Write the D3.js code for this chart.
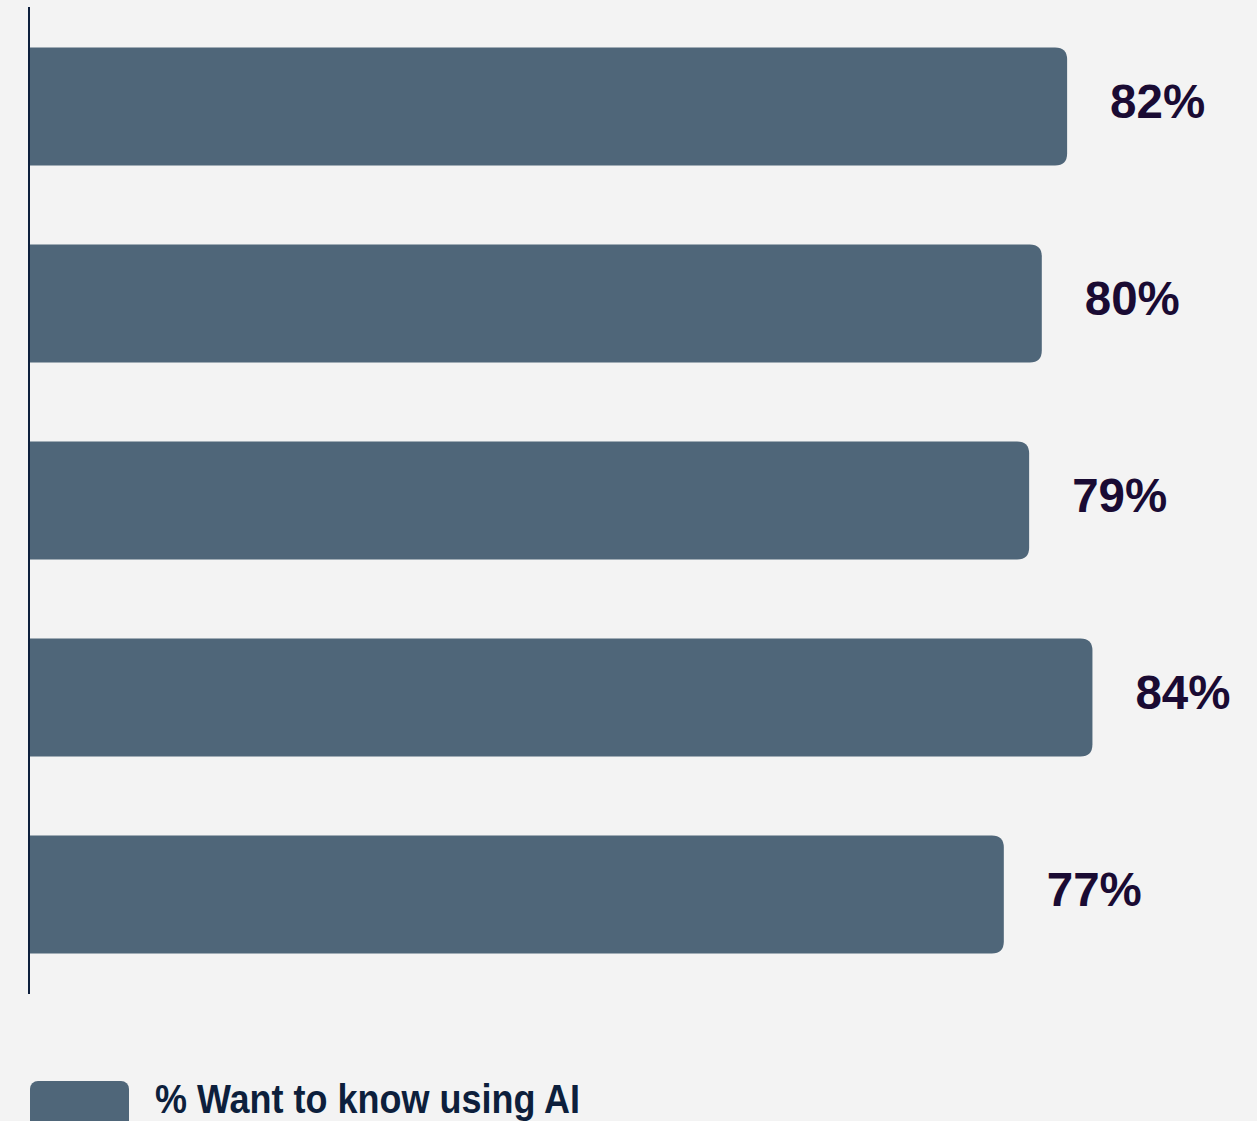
<!DOCTYPE html>
<html>
<head>
<meta charset="utf-8">
<script src="https://cdn.jsdelivr.net/npm/d3@7"></script>
<style>
  html, body { margin: 0; padding: 0; background: #f3f3f3; }
  svg { display: block; }
</style>
</head>
<body>
<div id="chart"></div>
<script>
const categories = ["A", "B", "C", "D", "E"];
const values = [82, 80, 79, 84, 77];
const seriesName = "% Want to know using AI";

const W = 1257, H = 1121;
const svg = d3.select("#chart").append("svg")
  .attr("width", W).attr("height", H)
  .style("background", "#f3f3f3");

const x = d3.scaleLinear().domain([0, 100]).range([29, 1295]);
const y = d3.scaleBand().domain(categories).range([8, 993])
  .paddingInner(0.4).paddingOuter(0.2);

const barColor = "#4f6679";
const r = 12;

function barPath(x0, x1, y0, h, rad) {
  return `M${x0},${y0} H${x1 - rad} Q${x1},${y0} ${x1},${y0 + rad} V${y0 + h - rad} Q${x1},${y0 + h} ${x1 - rad},${y0 + h} H${x0} Z`;
}

svg.append("g").selectAll("path")
  .data(categories)
  .join("path")
  .attr("d", (c, i) => barPath(x(0), x(values[i]), y(c), y.bandwidth(), r))
  .attr("fill", barColor);

// axis line
svg.append("line")
  .attr("x1", 29).attr("x2", 29)
  .attr("y1", 7).attr("y2", 994)
  .attr("stroke", "#0d1f3c").attr("stroke-width", 2);

svg.append("g").selectAll("text")
  .data(categories)
  .join("text")
  .attr("x", (c, i) => x(values[i]) + 43)
  .attr("y", c => y(c) + y.bandwidth() / 2 + 11)
  .attr("font-family", "Liberation Sans, Arial, sans-serif")
  .attr("font-weight", 700)
  .attr("font-size", 48)
  .attr("fill", "#1a0b33")
  .attr("textLength", 95)
  .attr("lengthAdjust", "spacingAndGlyphs")
  .text((c, i) => values[i] + "%");

// legend
const lg = svg.append("g");
lg.append("rect")
  .attr("x", 30).attr("y", 1081).attr("width", 99).attr("height", 50)
  .attr("rx", 8).attr("fill", barColor);
lg.append("text")
  .attr("x", 155).attr("y", 1113)
  .attr("font-family", "Liberation Sans, Arial, sans-serif")
  .attr("font-weight", 700)
  .attr("font-size", 40)
  .attr("fill", "#0d1f3c")
  .attr("textLength", 425)
  .attr("lengthAdjust", "spacingAndGlyphs")
  .text(seriesName);
</script>
</body>
</html>
